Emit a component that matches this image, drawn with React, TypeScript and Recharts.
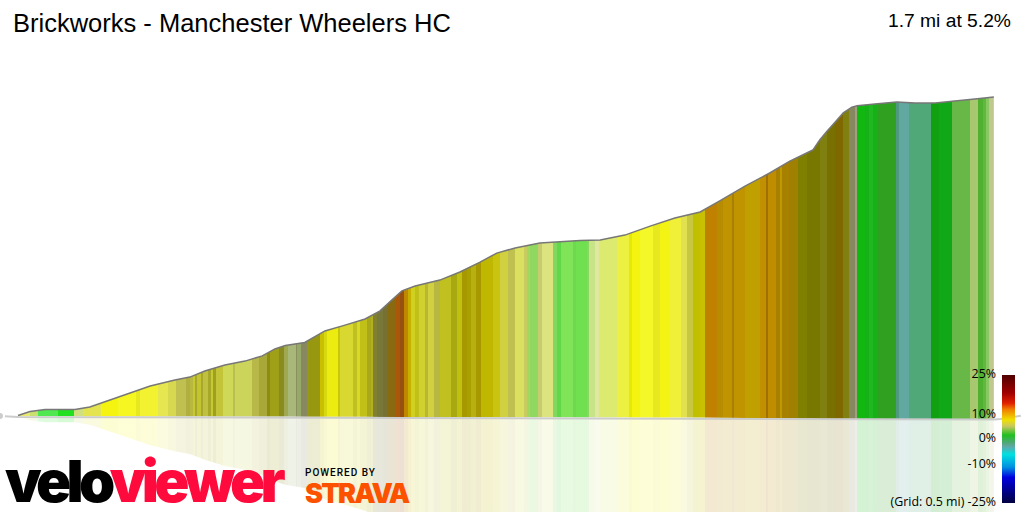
import { Area, ComposedChart, Line, XAxis, YAxis } from 'recharts';

const WIDTH = 1024;
const HEIGHT = 512;
const MILE_DOMAIN = [-0.03132, 1.75044];
const METRE_DOMAIN = [-42.67, 184.89];

// road profile
const profileMiles = [
  0, 0.021, 0.047, 0.099, 0.125, 0.16, 0.195, 0.23, 0.273, 0.299, 0.325, 0.36, 0.395, 0.425, 0.447, 0.465, 0.499,
  0.534, 0.569, 0.604, 0.63, 0.647, 0.668, 0.691, 0.734, 0.769, 0.804, 0.833, 0.865, 0.908, 0.978, 1.013, 1.056,
  1.1, 1.143, 1.187, 1.221, 1.265, 1.308, 1.343, 1.383, 1.395, 1.408, 1.422, 1.436, 1.451, 1.46, 1.491, 1.529,
  1.561, 1.596, 1.63, 1.665, 1.698,
];
const profileMetres = [
  0.2, 2, 2.9, 2.9, 4, 7.1, 10.2, 13.3, 16, 17.3, 20, 22.7, 24.4, 26.7, 29.8, 31.3, 32.7, 37.8, 40.4, 43.1, 46.7,
  50.7, 55.6, 57.8, 60.4, 64, 68.4, 72.4, 74.7, 76.9, 78, 78.2, 80.4, 84.4, 88, 90.7, 95.6, 102.2, 108, 113.3,
  118.2, 122.7, 126.7, 130.7, 134.7, 137.3, 137.9, 138.7, 139.6, 139.1, 139.1, 140, 140.9, 141.8,
];
const baseMetres = [
  0, 0, 0, 0, 0, 0, 0, -0.1, -0.1, -0.1, -0.1, -0.2, -0.2, -0.2, -0.2, -0.2, -0.3, -0.3, -0.3, -0.3, -0.4, -0.4,
  -0.4, -0.4, -0.4, -0.4, -0.5, -0.5, -0.5, -0.5, -0.6, -0.6, -0.6, -0.7, -0.7, -0.7, -0.8, -0.9, -1, -1.1, -1.2,
  -1.3, -1.3, -1.4, -1.5, -1.5, -1.6, -1.6, -1.6, -1.7, -1.7, -1.7, -1.7, -1.7,
];

// grey ground ribbon running under and past the profile
const groundMiles = [-0.03132, 0, 0.668, 1.698, 1.71, 1.745];
const groundMetres = [0, -0.4, -0.9, -1.6, -1.3, 0.1];

// gradient bands along the road: where each one ends and its colour
const bandEndMiles = [
  0.021, 0.035, 0.07, 0.097, 0.113, 0.144, 0.174, 0.205, 0.212, 0.244, 0.261, 0.275, 0.292, 0.299,
  0.304, 0.308, 0.312, 0.318, 0.322, 0.331, 0.335, 0.34, 0.345, 0.356, 0.374, 0.378, 0.407, 0.42, 0.433, 0.438,
  0.455, 0.462, 0.469, 0.483, 0.485, 0.493, 0.503, 0.525, 0.532, 0.538, 0.556, 0.561, 0.583, 0.589, 0.595,
  0.607, 0.614, 0.618, 0.625, 0.635, 0.644, 0.658, 0.665, 0.672, 0.679, 0.683, 0.691, 0.698, 0.708, 0.714, 0.723,
  0.734, 0.753, 0.763, 0.772, 0.782, 0.789, 0.797, 0.805, 0.827, 0.839, 0.853, 0.865, 0.88, 0.885, 0.891,
  0.904, 0.911, 0.931, 0.938, 0.944, 0.965, 0.971, 0.99, 0.994, 1.004, 1.011, 1.042, 1.063, 1.068, 1.082, 1.105,
  1.117, 1.134, 1.153, 1.164, 1.175, 1.187,
  1.195, 1.216, 1.226, 1.242, 1.245, 1.265, 1.291, 1.302, 1.305, 1.319, 1.326, 1.329, 1.342, 1.358, 1.372, 1.395,
  1.407, 1.422, 1.436, 1.446, 1.456, 1.459,
  1.474, 1.48, 1.488, 1.496, 1.527, 1.533, 1.551, 1.589, 1.603, 1.626, 1.656, 1.67, 1.679, 1.684, 1.69, 1.698,
];
const bandColors = [
  '#eaea70', '#c8e070', '#50e850', '#20e020', '#d0e080', '#e4e450', '#f4f410', '#f6f620', '#e8e820', '#f2f230',
  '#e6e650', '#d8d850', '#c0c050', '#b0b040',
  '#b8b840', '#c8c830', '#a8a830', '#c4c430', '#a8a830', '#c0c040', '#a8a828', '#c8c830', '#a0a020', '#c4c438',
  '#d0d858', '#b8c050', '#ccd45c', '#b8b848', '#a8a838', '#8c8c10', '#a0a018', '#888c20', '#a0a850', '#a8b878',
  '#889060', '#98a868', '#888860', '#989810', '#c8c000', '#d8d810', '#ecec10', '#c8c808', '#d8d830', '#c0c020',
  '#d8d828',
  '#c0c018', '#a8a818', '#b0b020', '#808030', '#787838', '#787030', '#8a6a10', '#a85808', '#985010', '#c08800',
  '#c8b000', '#d0d020', '#c0c018', '#d0d030', '#b8b830', '#d0d040', '#b8b840', '#c0c020', '#a8a810', '#c0c010',
  '#a89800', '#a8a000', '#b8b010', '#a89800', '#c0b800', '#c8c410', '#d0d040', '#c0c050', '#dce060', '#c8cc60',
  '#a0d860',
  '#90d860', '#c8cc70', '#dce480', '#80d860', '#60d848', '#80e458', '#70d850', '#70e050', '#88d860', '#c8e488',
  '#e0e8a0', '#dcea70', '#ecf040', '#e8e808', '#f4f410', '#f4f828', '#e8e820', '#f4f414', '#f0f038', '#e0e050',
  '#c8c840', '#c0c000',
  '#c8c000', '#c08000', '#b88c00', '#c09400', '#a88008', '#c09400', '#c0a000', '#c09000', '#a07000', '#c08c00',
  '#a88000', '#c09800', '#a88000', '#a08000', '#808000', '#787800', '#808010', '#787000', '#806800', '#808010',
  '#888860', '#a0a080',
  '#10b810', '#18b018', '#20b820', '#18b018', '#30a020', '#509880', '#60a8a0', '#50a878', '#10a010', '#10a818',
  '#68b848', '#a8c870', '#50b030', '#60b840', '#88c860', '#c0c890',
];

// colour key on the right
const keyOffsets = [0, 14, 22, 27, 35, 40, 47, 53, 56, 62, 72, 80, 92, 100];
const keyColors = [
  '#500000', '#a00000', '#e02000', '#f08000', '#f0e000', '#c8c860', '#20c020', '#50a878', '#60a8a8', '#00e0e0',
  '#0090e0', '#0000e0', '#000080', '#000040',
];
const keyLabels = ['25%', '10%', '0%', '-10%', '(Grid: 0.5 mi) -25%'];
const keyLabelTops = [367, 407, 431, 457, 495];

const profileRows = profileMiles.map((mi, i) => ({
  mi,
  crest: profileMetres[i],
  band: [baseMetres[i], profileMetres[i]],
  mirror: [baseMetres[i] - profileMetres[i] * 0.97, baseMetres[i]],
}));
const groundRows = groundMiles.map((mi, i) => ({ mi, ground: groundMetres[i] }));

const toOffset = (mi: number) => (mi - MILE_DOMAIN[0]) / (MILE_DOMAIN[1] - MILE_DOMAIN[0]);

function GradeStops() {
  return (
    <linearGradient id="grade" gradientUnits="userSpaceOnUse" x1={0} x2={WIDTH} y1={0} y2={0}>
      {bandEndMiles.flatMap((end, i) => [
        <stop key={`a${i}`} offset={toOffset(i === 0 ? 0 : bandEndMiles[i - 1])} stopColor={bandColors[i]} />,
        <stop key={`b${i}`} offset={toOffset(end)} stopColor={bandColors[i]} />,
      ])}
    </linearGradient>
  );
}

const label = (top: number, right: number, size: number, family: string): React.CSSProperties => ({
  position: 'absolute',
  top,
  right,
  fontSize: size,
  fontFamily: family,
  color: '#000',
  whiteSpace: 'nowrap',
  lineHeight: 1.2,
});

export default function App() {
  return (
    <div style={{ position: 'absolute', left: 0, top: 0, width: WIDTH, height: HEIGHT, overflow: 'hidden', background: '#fff' }}>
      <ComposedChart width={WIDTH} height={HEIGHT} margin={{ top: 0, right: 0, bottom: 0, left: 0 }}>
        <defs>
          <GradeStops />
        </defs>
        <XAxis type="number" dataKey="mi" domain={MILE_DOMAIN} allowDataOverflow hide />
        <YAxis type="number" domain={METRE_DOMAIN} allowDataOverflow hide />
        <Area data={profileRows} dataKey="mirror" type="linear" fill="url(#grade)" fillOpacity={0.18} stroke="none" isAnimationActive={false} />
        <Area data={profileRows} dataKey="band" type="linear" fill="url(#grade)" fillOpacity={1} stroke="none" isAnimationActive={false} />
        <Line data={groundRows} dataKey="ground" type="linear" stroke="#cccccc" strokeWidth={2} dot={false} isAnimationActive={false} />
        <Line data={profileRows} dataKey="crest" type="linear" stroke="#777" strokeWidth={1.5} dot={false} isAnimationActive={false} />
      </ComposedChart>

      <div style={{ position: 'absolute', left: 13, top: 8, fontSize: 25.5, fontFamily: '"Liberation Sans"', lineHeight: 1.2, whiteSpace: 'nowrap' }}>
        Brickworks - Manchester Wheelers HC
      </div>
      <div style={label(9, 13, 19.25, '"Liberation Sans"')}>1.7 mi at 5.2%</div>

      <div
        style={{
          position: 'absolute',
          left: 1002,
          top: 375,
          width: 13,
          height: 128,
          background: `linear-gradient(to bottom, ${keyColors.map((c, i) => `${c} ${keyOffsets[i]}%`).join(', ')})`,
        }}
      />
      {keyLabels.map((text, i) => (
        <div key={text} style={label(keyLabelTops[i], 28, 12.4, '"Open Sans"')}>
          {text}
        </div>
      ))}

      <div style={{ position: 'absolute', left: 5, top: 452, fontSize: 58, lineHeight: 1, fontFamily: 'Inter', fontWeight: 900, letterSpacing: '-0.08em', whiteSpace: 'nowrap' }}>
        <span style={{ color: '#000' }}>velo</span>
        <span style={{ color: '#ff0a3c' }}>viewer</span>
      </div>
      <div style={{ position: 'absolute', left: 305, top: 467, fontSize: 10, lineHeight: 1.2, fontFamily: 'Roboto', fontWeight: 500, letterSpacing: 1, whiteSpace: 'nowrap' }}>
        POWERED BY
      </div>
      <div style={{ position: 'absolute', left: 305, top: 478, fontSize: 27, lineHeight: 1.2, fontFamily: 'Inter', fontWeight: 900, color: '#fc5200', letterSpacing: -1.8, whiteSpace: 'nowrap' }}>
        STRAVA
      </div>
    </div>
  );
}
